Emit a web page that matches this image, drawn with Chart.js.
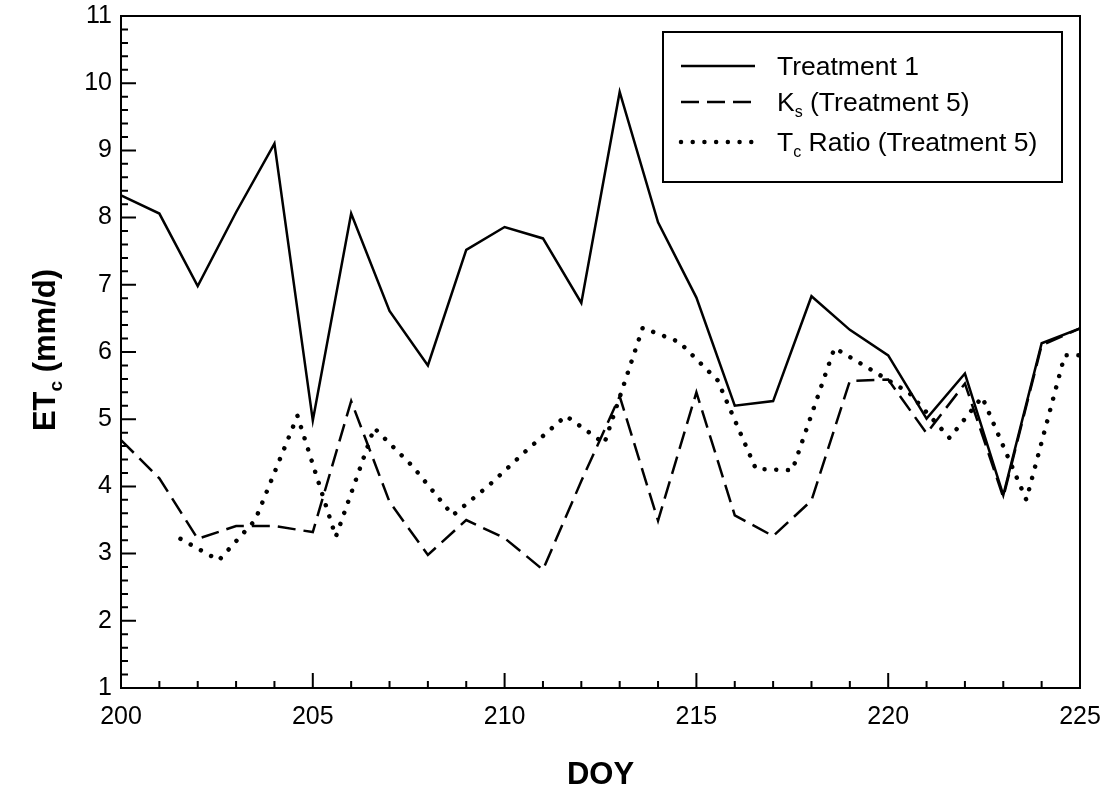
<!DOCTYPE html>
<html><head><meta charset="utf-8">
<script src="https://cdn.jsdelivr.net/npm/chart.js@4.4.1/dist/chart.umd.min.js"></script>
<style>html,body{margin:0;padding:0;background:#fff;}#wrap{width:1107px;height:788px;}</style>
</head><body><div id="wrap"><canvas id="c" width="1107" height="788"></canvas></div>
<script>
// ---- data ----
const doy = [200,201,202,203,204,205,206,207,208,209,210,211,212,213,214,215,216,217,218,219,220,221,222,223,224,225];
const treatment1 = [8.33,8.06,6.98,8.08,9.10,4.98,8.06,6.61,5.80,7.52,7.86,7.69,6.73,9.87,7.93,6.81,5.20,5.27,6.83,6.33,5.95,5.01,5.68,3.87,6.13,6.35];
const ksTreatment5 = [4.69,4.12,3.22,3.41,3.41,3.32,5.27,3.77,2.98,3.50,3.23,2.76,4.08,5.34,3.49,5.40,3.57,3.26,3.79,5.57,5.59,4.79,5.53,3.84,6.10,6.35];
const tcRatioDoy = [201.55,202.55,203.5,204.6,205.6,206.6,207.6,208.65,209.6,210.6,211.6,212.6,213.6,214.55,215.55,216.55,217.5,218.6,219.6,220.55,221.6,222.45,223.6,224.6,225];
const tcRatioTreatment5 = [3.22,2.90,3.50,5.05,3.25,4.87,4.30,3.57,4.02,4.55,5.05,4.64,6.36,6.15,5.58,4.26,4.24,6.06,5.72,5.39,4.72,5.33,3.80,5.95,5.95];
const xTicks = [200,205,210,215,220,225];
const yTicks = [1,2,3,4,5,6,7,8,9,10,11];

const FONT = "'Liberation Sans', Arial, Helvetica, sans-serif";
const DASH = [18,8];
const DOT = [0.01,11.7];

const frameAndTicks = {
  id:'frameAndTicks',
  afterDraw(chart){
    const {ctx, chartArea:a, scales:{x,y}} = chart;
    ctx.save();
    ctx.strokeStyle='#000';
    ctx.lineWidth=2;
    ctx.strokeRect(a.left, a.top, a.right-a.left, a.bottom-a.top);
    ctx.beginPath();
    for(let v=y.min; v<=y.max+1e-9; v+=0.2){
      const p=y.getPixelForValue(v);
      const major=Math.abs(v-Math.round(v))<1e-6;
      ctx.moveTo(a.left,p); ctx.lineTo(a.left+(major?15:7),p);
    }
    for(let v=x.min; v<=x.max+1e-9; v+=1){
      const p=x.getPixelForValue(v);
      const major=Math.round(v)%5===0;
      ctx.moveTo(p,a.bottom); ctx.lineTo(p,a.bottom-(major?15:7));
    }
    ctx.stroke();
    // axis titles
    ctx.fillStyle='#000';
    ctx.font="bold 31px "+FONT;
    ctx.textAlign='center'; ctx.textBaseline='middle';
    ctx.fillText('DOY',(a.left+a.right)/2,775);
    // y title with subscript
    ctx.translate(45,350);
    ctx.rotate(-Math.PI/2);
    const big="bold 31px "+FONT, small="bold 19px "+FONT;
    ctx.font=big; const w1=ctx.measureText('ET').width;
    ctx.font=small; const w2=ctx.measureText('c').width;
    ctx.font=big; const w3=ctx.measureText(' (mm/d)').width;
    let sx=-(w1+w2+w3)/2;
    ctx.textAlign='left'; ctx.textBaseline='alphabetic';
    ctx.font=big; ctx.fillText('ET',sx,10); sx+=w1;
    ctx.font=small; ctx.fillText('c',sx,17); sx+=w2;
    ctx.font=big; ctx.fillText(' (mm/d)',sx,10);
    ctx.restore();
  }
};

const customLegend = {
  id:'customLegend',
  afterDraw(chart){
    const ctx=chart.ctx;
    ctx.save();
    ctx.strokeStyle='#000'; ctx.lineWidth=2;
    ctx.strokeRect(663,32,399,150);
    const rows=[
      {y:66, dash:[], w:2.5, cap:'butt', parts:[['Treatment 1',0]]},
      {y:102, dash:DASH, w:2.5, cap:'butt', parts:[['K',0],['s',1],[' (Treatment 5)',0]]},
      {y:142, dash:DOT, w:4.5, cap:'round', parts:[['T',0],['c',1],[' Ratio (Treatment 5)',0]]}
    ];
    rows.forEach(r=>{
      ctx.beginPath(); ctx.setLineDash(r.dash); ctx.lineCap=r.cap; ctx.lineWidth=r.w;
      ctx.moveTo(681,r.y); ctx.lineTo(755,r.y); ctx.stroke();
      ctx.setLineDash([]);
      let tx=777;
      ctx.fillStyle='#000'; ctx.textBaseline='alphabetic'; ctx.textAlign='left';
      r.parts.forEach(([t,sub])=>{
        ctx.font=(sub?'16px ':'26.5px ')+FONT;
        ctx.fillText(t,tx,r.y+9+(sub?6:0));
        tx+=ctx.measureText(t).width;
      });
    });
    ctx.restore();
  }
};

const toPts=(xs,ys)=>xs.map((v,i)=>({x:v,y:ys[i]}));

new Chart(document.getElementById('c'),{
  type:'line',
  data:{datasets:[
    {label:'Treatment 1',data:toPts(doy,treatment1),borderColor:'#000',borderWidth:2.5,pointRadius:0,tension:0,borderJoinStyle:'miter',fill:false},
    {label:'Ks (Treatment 5)',data:toPts(doy,ksTreatment5),borderColor:'#000',borderWidth:2.5,borderDash:DASH,pointRadius:0,tension:0,fill:false},
    {label:'Tc Ratio (Treatment 5)',data:toPts(tcRatioDoy,tcRatioTreatment5),borderColor:'#000',borderWidth:4.5,borderDash:DOT,borderCapStyle:'round',pointRadius:0,tension:0,fill:false}
  ]},
  options:{
    responsive:false, animation:false, devicePixelRatio:1,
    layout:{padding:{left:0,top:16,right:27,bottom:0}},
    plugins:{legend:{display:false},tooltip:{enabled:false}},
    scales:{
      x:{type:'linear',min:200,max:225,
        afterBuildTicks:s=>{s.ticks=xTicks.map(v=>({value:v}));},
        afterFit:s=>{s.height=100;s.paddingLeft=0;s.paddingRight=0;},
        grid:{display:false,drawTicks:false},border:{display:false},
        ticks:{color:'#000',font:{family:FONT,size:25},padding:14,maxRotation:0,autoSkip:false}},
      y:{type:'linear',min:1,max:11,
        afterBuildTicks:s=>{s.ticks=yTicks.map(v=>({value:v}));},
        afterFit:s=>{s.width=121;s.paddingTop=0;s.paddingBottom=0;},
        grid:{display:false,drawTicks:false},border:{display:false},
        ticks:{color:'#000',font:{family:FONT,size:25},padding:9,autoSkip:false}}
    }
  },
  plugins:[frameAndTicks,customLegend]
});
</script></body></html>
